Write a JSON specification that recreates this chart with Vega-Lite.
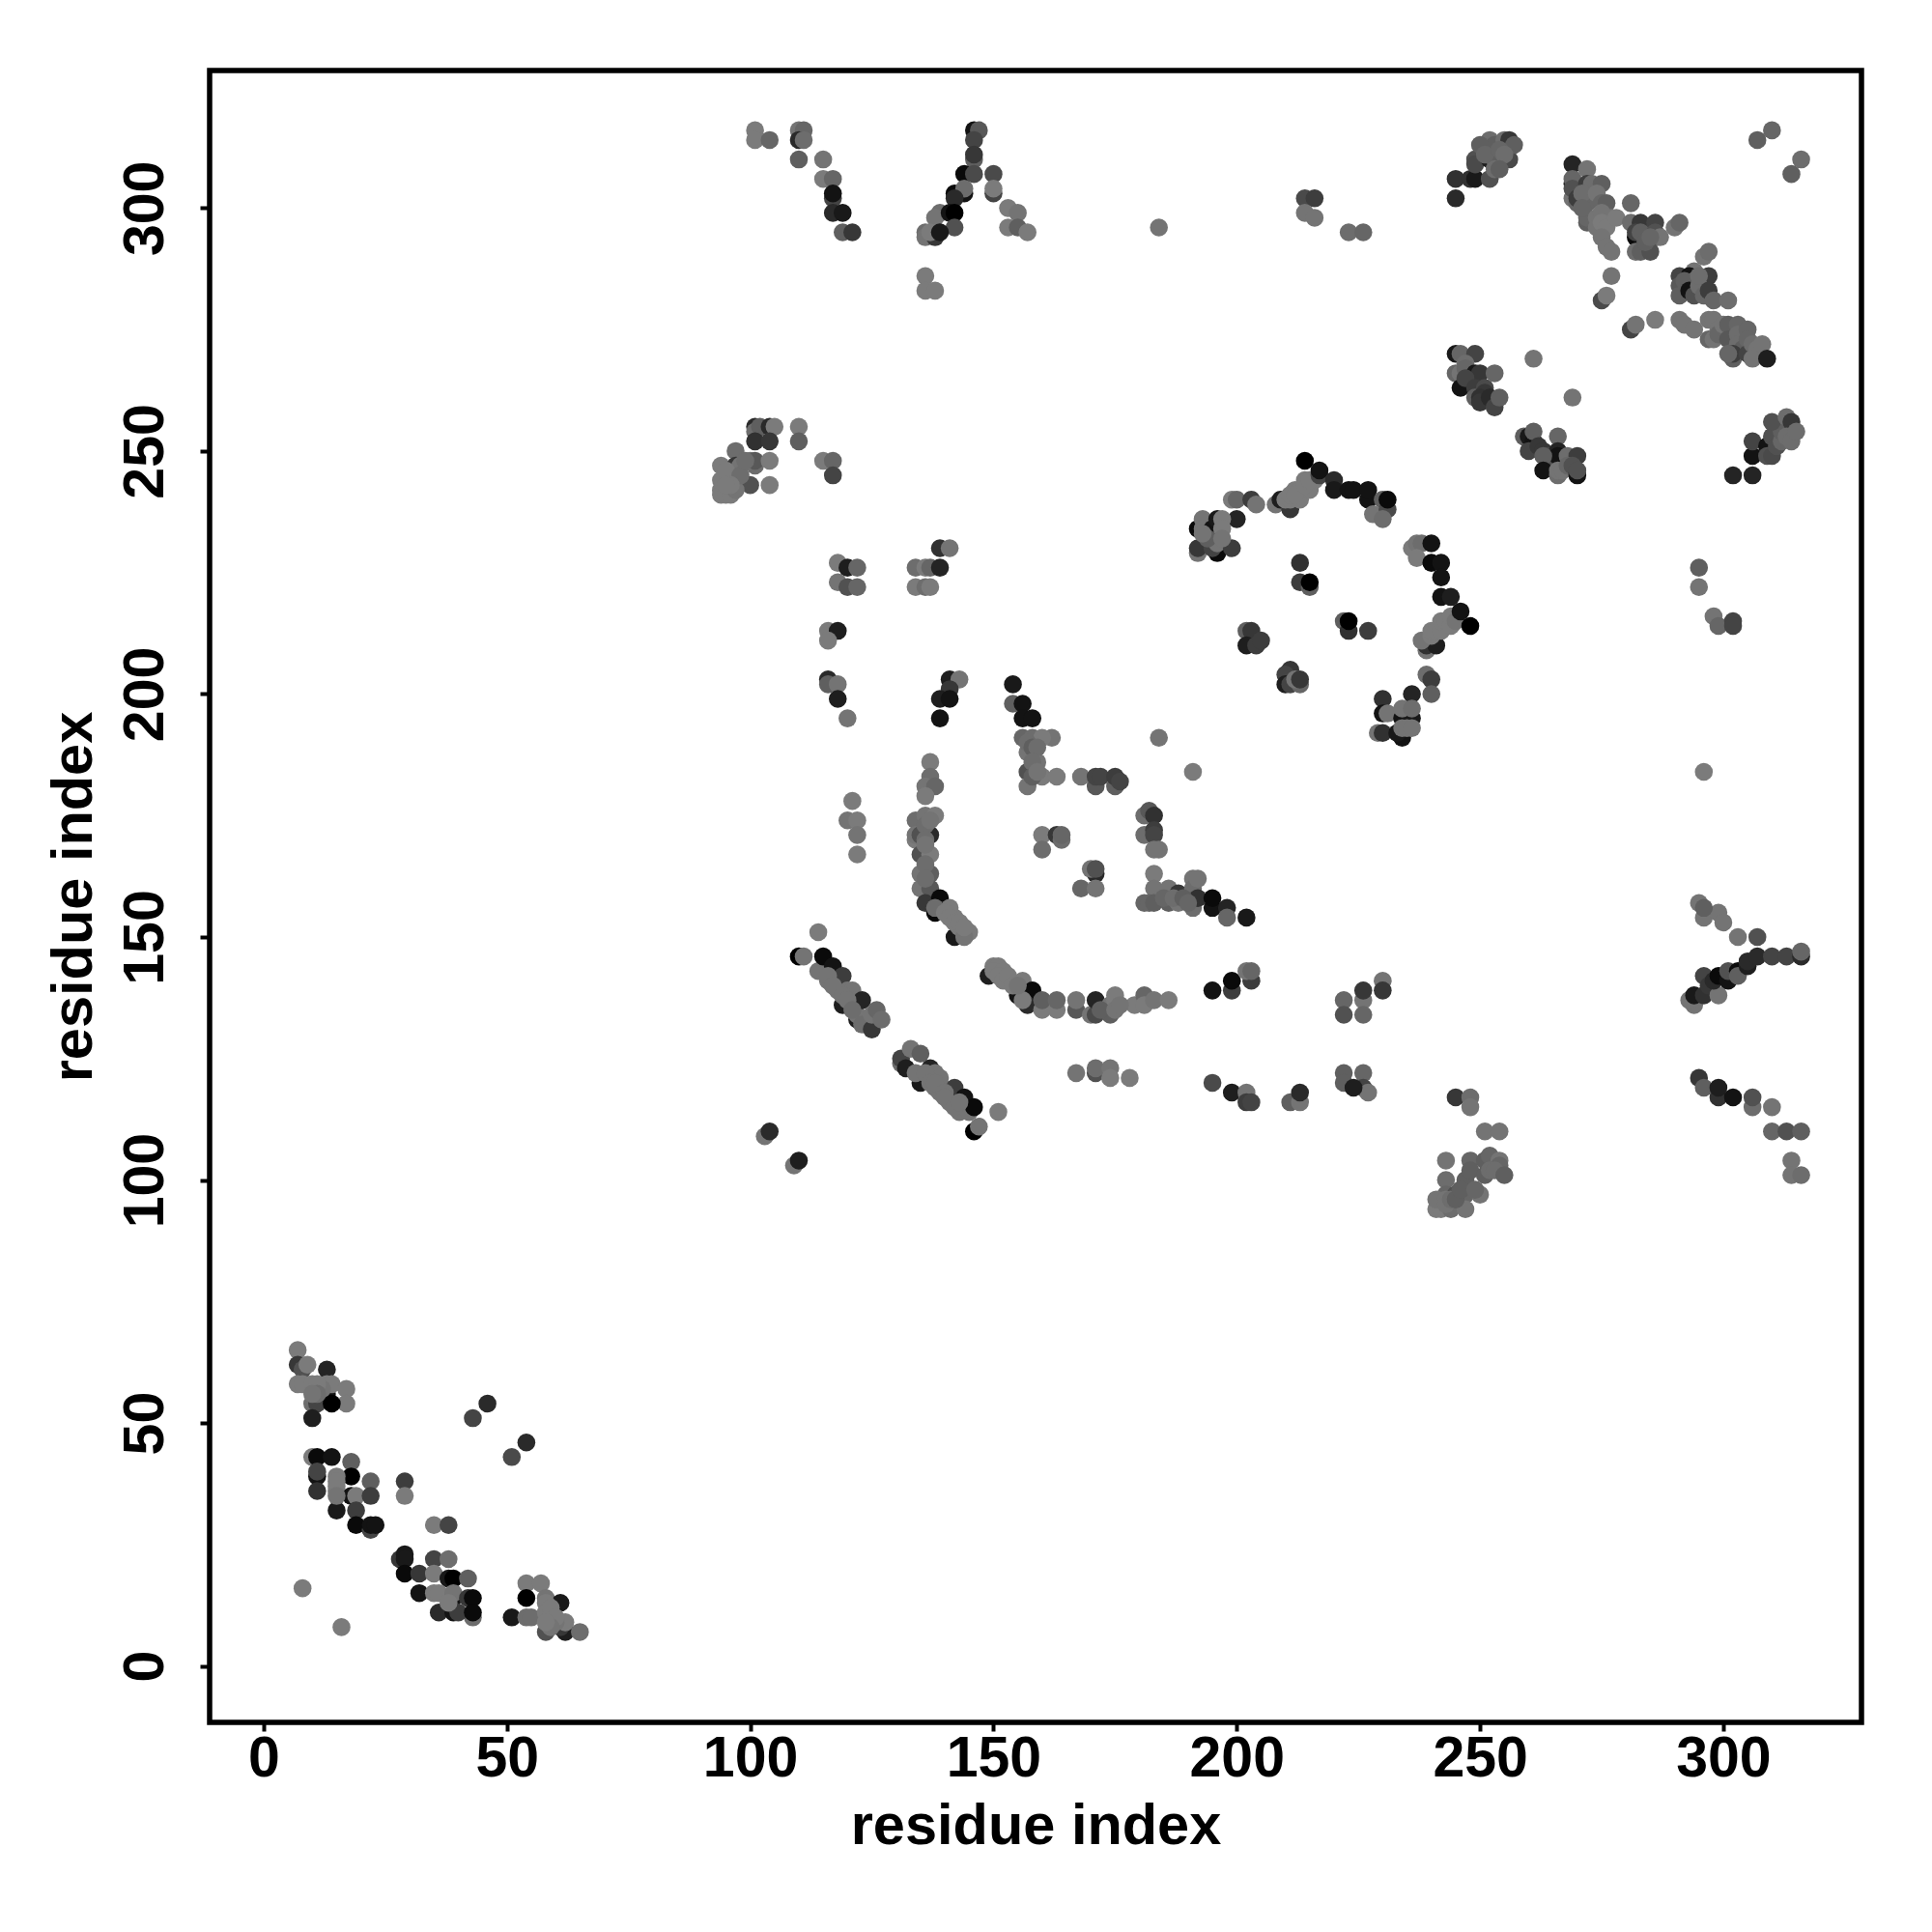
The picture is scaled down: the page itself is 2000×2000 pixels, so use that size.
{"$schema":"https://vega.github.io/schema/vega-lite/v6.json","width":1710,"height":1710,"autosize":{"type":"none"},"padding":{"left":217,"top":73,"right":73,"bottom":217},"background":"white",
"config":{"font":"Liberation Sans","view":{"stroke":"black","strokeWidth":5.5}},
"data":{"values":[
{"x":7,"y":65,"g":0.9},{"x":7,"y":62,"g":0.4},{"x":8,"y":61,"g":0.6},{"x":9,"y":62,"g":0.9},{"x":13,"y":61,"g":0.25},{"x":7,"y":58,"g":0.9},{"x":8,"y":58,"g":0.9},{"x":10,"y":58,"g":0.9},{"x":13,"y":56,"g":0.1},{"x":13,"y":58,"g":0.9},{"x":14,"y":58,"g":0.9},{"x":17,"y":57,"g":0.9},{"x":17,"y":54,"g":0.9},{"x":10,"y":54,"g":0.8},{"x":11,"y":54,"g":0.5},{"x":14,"y":54,"g":0},{"x":10,"y":51,"g":0.2},{"x":46,"y":54,"g":0.3},{"x":43,"y":51,"g":0.5},{"x":54,"y":46,"g":0.3},{"x":51,"y":43,"g":0.55},{"x":10,"y":43,"g":0.9},{"x":11,"y":43,"g":0.05},{"x":14,"y":43,"g":0.1},{"x":18,"y":42,"g":0.7},{"x":11,"y":39,"g":0.1},{"x":11,"y":40,"g":0.5},{"x":18,"y":39,"g":0},{"x":15,"y":39,"g":0.9},{"x":22,"y":38,"g":0.7},{"x":29,"y":38,"g":0.45},{"x":11,"y":36,"g":0.35},{"x":15,"y":36,"g":0.9},{"x":18,"y":35,"g":0.1},{"x":19,"y":35,"g":0.9},{"x":22,"y":35,"g":0.45},{"x":29,"y":35,"g":0.9},{"x":15,"y":32,"g":0.15},{"x":19,"y":32,"g":0.45},{"x":19,"y":29,"g":0.05},{"x":22,"y":28,"g":0.5},{"x":22,"y":29,"g":0.1},{"x":23,"y":29,"g":0.1},{"x":35,"y":29,"g":0.9},{"x":38,"y":29,"g":0.5},{"x":28,"y":22,"g":0.4},{"x":29,"y":23,"g":0.15},{"x":29,"y":22,"g":0.15},{"x":29,"y":19,"g":0.05},{"x":35,"y":22,"g":0.5},{"x":38,"y":22,"g":0.8},{"x":32,"y":19,"g":0.4},{"x":35,"y":19,"g":0.9},{"x":38,"y":18,"g":0.15},{"x":39,"y":18,"g":0},{"x":42,"y":18,"g":0.7},{"x":32,"y":15,"g":0.1},{"x":35,"y":15,"g":0.9},{"x":36,"y":15,"g":0.9},{"x":39,"y":14,"g":0.1},{"x":39,"y":15,"g":0.85},{"x":42,"y":14,"g":0.4},{"x":43,"y":10,"g":0.8},{"x":43,"y":14,"g":0.05},{"x":36,"y":11,"g":0.3},{"x":39,"y":11,"g":0.1},{"x":40,"y":11,"g":0.45},{"x":43,"y":11,"g":0.05},{"x":8,"y":16,"g":0.9},{"x":16,"y":8,"g":0.9},{"x":54,"y":17,"g":0.9},{"x":57,"y":17,"g":0.9},{"x":54,"y":14,"g":0},{"x":58,"y":14,"g":0.85},{"x":51,"y":10,"g":0.15},{"x":54,"y":10,"g":0.8},{"x":55,"y":10,"g":0.8},{"x":61,"y":13,"g":0.15},{"x":58,"y":13,"g":0.9},{"x":58,"y":7,"g":0.6},{"x":58,"y":11,"g":0.9},{"x":59,"y":10,"g":0.9},{"x":62,"y":7,"g":0.2},{"x":61,"y":8,"g":0.4},{"x":62,"y":9,"g":0.9},{"x":65,"y":7,"g":0.8},
{"x":101,"y":316,"g":0.9},{"x":101,"y":314,"g":0.9},{"x":104,"y":314,"g":0.75},{"x":110,"y":316,"g":0.85},{"x":111,"y":316,"g":0.75},{"x":110,"y":314,"g":0.3},{"x":111,"y":314,"g":0.8},{"x":110,"y":310,"g":0.7},{"x":115,"y":310,"g":0.85},{"x":115,"y":306,"g":0.9},{"x":117,"y":306,"g":0.75},{"x":117,"y":302,"g":0.5},{"x":117,"y":303,"g":0.1},{"x":117,"y":299,"g":0.3},{"x":119,"y":299,"g":0.15},{"x":119,"y":295,"g":0.7},{"x":121,"y":295,"g":0.4},
{"x":146,"y":316,"g":0.1},{"x":147,"y":316,"g":0.65},{"x":146,"y":314,"g":0.5},{"x":146,"y":310,"g":0.7},{"x":146,"y":311,"g":0.4},{"x":144,"y":307,"g":0.05},{"x":146,"y":307,"g":0.55},{"x":150,"y":307,"g":0.55},{"x":150,"y":303,"g":0.5},{"x":150,"y":304,"g":0.9},{"x":142,"y":303,"g":0.05},{"x":144,"y":303,"g":0.1},{"x":144,"y":304,"g":0.8},{"x":142,"y":302,"g":0.3},{"x":139,"y":299,"g":0.8},{"x":138,"y":298,"g":0.85},{"x":141,"y":299,"g":0.1},{"x":142,"y":299,"g":0},{"x":153,"y":300,"g":0.9},{"x":155,"y":299,"g":0.85},{"x":153,"y":296,"g":0.9},{"x":155,"y":296,"g":0.7},{"x":157,"y":295,"g":0.9},{"x":142,"y":296,"g":0.6},{"x":136,"y":295,"g":0.8},{"x":136,"y":294,"g":0.85},{"x":138,"y":294,"g":0.4},{"x":137,"y":295,"g":0.9},{"x":139,"y":295,"g":0.15},{"x":136,"y":286,"g":0.9},{"x":136,"y":283,"g":0.9},{"x":138,"y":283,"g":0.9},
{"x":101,"y":255,"g":0.3},{"x":101,"y":254,"g":0.8},{"x":102,"y":255,"g":0.7},{"x":104,"y":255,"g":0.3},{"x":105,"y":255,"g":0.9},{"x":101,"y":252,"g":0.35},{"x":104,"y":252,"g":0.4},{"x":110,"y":255,"g":0.9},{"x":110,"y":252,"g":0.7},{"x":115,"y":248,"g":0.9},{"x":117,"y":248,"g":0.75},{"x":117,"y":245,"g":0.5},{"x":97,"y":250,"g":0.8},{"x":101,"y":247,"g":0.8},{"x":100,"y":248,"g":0.85},{"x":101,"y":248,"g":0.65},{"x":104,"y":248,"g":0.9},{"x":94,"y":247,"g":0.9},{"x":97,"y":247,"g":0.4},{"x":98,"y":247,"g":0.85},{"x":97,"y":243,"g":0.65},{"x":100,"y":243,"g":0.6},{"x":104,"y":243,"g":0.9},{"x":94,"y":244,"g":0.9},{"x":94,"y":242,"g":0.9},{"x":94,"y":241,"g":0.9},{"x":95,"y":241,"g":0.9},{"x":96,"y":241,"g":0.9},{"x":97,"y":242,"g":0.85},{"x":96,"y":244,"g":0.9},{"x":95,"y":246,"g":0.9},
{"x":118,"y":227,"g":0.9},{"x":120,"y":226,"g":0.2},{"x":122,"y":226,"g":0.75},{"x":118,"y":223,"g":0.85},{"x":120,"y":222,"g":0.6},{"x":122,"y":222,"g":0.75},{"x":116,"y":213,"g":0.9},{"x":118,"y":213,"g":0.2},{"x":116,"y":211,"g":0.9},{"x":116,"y":203,"g":0.3},{"x":116,"y":202,"g":0.7},{"x":118,"y":202,"g":0.85},{"x":118,"y":199,"g":0.2},{"x":120,"y":195,"g":0.85},{"x":121,"y":178,"g":0.9},{"x":120,"y":174,"g":0.85},{"x":122,"y":174,"g":0.9},{"x":122,"y":171,"g":0.85},{"x":122,"y":167,"g":0.9},
{"x":134,"y":226,"g":0.8},{"x":136,"y":226,"g":0.9},{"x":137,"y":226,"g":0.75},{"x":139,"y":226,"g":0.25},{"x":134,"y":222,"g":0.9},{"x":136,"y":222,"g":0.8},{"x":137,"y":222,"g":0.9},{"x":139,"y":230,"g":0.35},{"x":141,"y":230,"g":0.85},{"x":141,"y":203,"g":0.2},{"x":143,"y":203,"g":0.85},{"x":141,"y":201,"g":0.4},{"x":139,"y":199,"g":0.2},{"x":141,"y":199,"g":0.1},{"x":139,"y":195,"g":0.1},
{"x":137,"y":186,"g":0.9},{"x":137,"y":183,"g":0.8},{"x":136,"y":181,"g":0.85},{"x":138,"y":181,"g":0.75},{"x":136,"y":179,"g":0.9},{"x":134,"y":174,"g":0.8},{"x":136,"y":175,"g":0.85},{"x":138,"y":175,"g":0.9},{"x":134,"y":170,"g":0.9},{"x":134,"y":171,"g":0.85},{"x":135,"y":171,"g":0.6},{"x":137,"y":171,"g":0.3},{"x":135,"y":167,"g":0.6},{"x":137,"y":167,"g":0.9},{"x":135,"y":163,"g":0.85},{"x":137,"y":163,"g":0.7},{"x":135,"y":160,"g":0.85},{"x":137,"y":160,"g":0.65},{"x":136,"y":157,"g":0.4},{"x":139,"y":158,"g":0.05},{"x":138,"y":155,"g":0.05},{"x":138,"y":156,"g":0.8},{"x":142,"y":150,"g":0.15},{"x":141,"y":156,"g":0.9},{"x":142,"y":154,"g":0.9},{"x":143,"y":152,"g":0.9},{"x":144,"y":151,"g":0.9},{"x":145,"y":151,"g":0.9},{"x":144,"y":150,"g":0.85},
{"x":149,"y":142,"g":0.2},{"x":150,"y":144,"g":0.9},{"x":151,"y":144,"g":0.9},{"x":150,"y":143,"g":0.9},{"x":152,"y":143,"g":0.9},{"x":153,"y":141,"g":0.9},{"x":156,"y":141,"g":0.9},{"x":155,"y":138,"g":0.1},{"x":158,"y":139,"g":0.05},{"x":157,"y":136,"g":0.3},{"x":156,"y":137,"g":0.9},{"x":160,"y":135,"g":0.9},{"x":160,"y":137,"g":0.7},{"x":163,"y":135,"g":0.9},{"x":163,"y":137,"g":0.75},{"x":167,"y":135,"g":0.65},{"x":167,"y":137,"g":0.85},{"x":170,"y":134,"g":0.85},{"x":171,"y":134,"g":0.55},{"x":171,"y":137,"g":0.25},{"x":174,"y":134,"g":0.7},{"x":174,"y":136,"g":0.85},{"x":175,"y":137,"g":0.9},{"x":175,"y":138,"g":0.9},{"x":179,"y":136,"g":0.9},{"x":181,"y":138,"g":0.75},{"x":181,"y":136,"g":0.9},{"x":183,"y":137,"g":0.85},{"x":186,"y":137,"g":0.9},
{"x":195,"y":139,"g":0.1},{"x":199,"y":139,"g":0.45},{"x":199,"y":141,"g":0.05},{"x":203,"y":141,"g":0.45},{"x":202,"y":143,"g":0.85},{"x":203,"y":143,"g":0.75},
{"x":167,"y":122,"g":0.85},{"x":171,"y":122,"g":0.6},{"x":171,"y":123,"g":0.8},{"x":174,"y":123,"g":0.85},{"x":174,"y":121,"g":0.9},{"x":178,"y":121,"g":0.9},{"x":195,"y":120,"g":0.55},{"x":199,"y":118,"g":0.2},{"x":202,"y":118,"g":0.85},{"x":202,"y":116,"g":0.45},{"x":203,"y":116,"g":0.5},{"x":211,"y":116,"g":0.7},{"x":213,"y":116,"g":0.85},{"x":213,"y":118,"g":0.3},
{"x":154,"y":202,"g":0.15},{"x":154,"y":198,"g":0.7},{"x":156,"y":198,"g":0.1},{"x":156,"y":195,"g":0.1},{"x":158,"y":195,"g":0.1},{"x":156,"y":191,"g":0.75},{"x":158,"y":191,"g":0.8},{"x":162,"y":191,"g":0.85},{"x":160,"y":191,"g":0.9},{"x":157,"y":188,"g":0.85},{"x":157,"y":184,"g":0.6},{"x":157,"y":181,"g":0.85},{"x":159,"y":186,"g":0.85},{"x":160,"y":183,"g":0.9},{"x":163,"y":183,"g":0.9},{"x":168,"y":183,"g":0.85},{"x":171,"y":181,"g":0.65},{"x":171,"y":183,"g":0.5},{"x":172,"y":183,"g":0.5},{"x":175,"y":181,"g":0.7},{"x":175,"y":183,"g":0.45},{"x":176,"y":182,"g":0.5},{"x":191,"y":184,"g":0.9},{"x":184,"y":191,"g":0.85},
{"x":181,"y":175,"g":0.8},{"x":182,"y":176,"g":0.65},{"x":183,"y":175,"g":0.35},{"x":181,"y":171,"g":0.8},{"x":183,"y":172,"g":0.45},{"x":183,"y":171,"g":0.5},{"x":184,"y":168,"g":0.85},{"x":183,"y":168,"g":0.85},{"x":183,"y":163,"g":0.9},{"x":183,"y":160,"g":0.85},{"x":181,"y":157,"g":0.75},{"x":182,"y":157,"g":0.75},{"x":183,"y":157,"g":0.7},{"x":186,"y":160,"g":0.85},{"x":186,"y":157,"g":0.7},{"x":188,"y":157,"g":0.85},{"x":188,"y":159,"g":0.4},{"x":191,"y":162,"g":0.85},{"x":191,"y":160,"g":0.8},{"x":192,"y":162,"g":0.85},{"x":191,"y":156,"g":0.8},{"x":192,"y":158,"g":0.35},{"x":195,"y":156,"g":0.1},{"x":195,"y":158,"g":0.05},{"x":198,"y":156,"g":0.25},{"x":198,"y":154,"g":0.75},{"x":202,"y":154,"g":0.15},
{"x":160,"y":171,"g":0.9},{"x":160,"y":168,"g":0.8},{"x":163,"y":171,"g":0.4},{"x":164,"y":170,"g":0.8},{"x":164,"y":171,"g":0.75},{"x":171,"y":163,"g":0.3},{"x":170,"y":164,"g":0.85},{"x":171,"y":164,"g":0.6},{"x":168,"y":160,"g":0.75},{"x":171,"y":160,"g":0.85},
{"x":114,"y":151,"g":0.9},{"x":110,"y":146,"g":0},{"x":111,"y":146,"g":0.85},{"x":114,"y":143,"g":0.85},{"x":115,"y":146,"g":0.05},{"x":116,"y":141,"g":0.85},{"x":117,"y":144,"g":0.1},{"x":118,"y":139,"g":0.85},{"x":119,"y":142,"g":0.45},{"x":119,"y":136,"g":0.2},{"x":120,"y":139,"g":0.85},{"x":121,"y":139,"g":0.85},{"x":121,"y":137,"g":0.85},{"x":122,"y":133,"g":0.2},{"x":122,"y":134,"g":0.85},{"x":123,"y":132,"g":0.8},{"x":123,"y":137,"g":0.25},{"x":125,"y":131,"g":0.4},{"x":125,"y":134,"g":0.85},{"x":126,"y":135,"g":0.75},{"x":127,"y":133,"g":0.8},
{"x":131,"y":124,"g":0.8},{"x":131,"y":125,"g":0.5},{"x":132,"y":123,"g":0.2},{"x":133,"y":127,"g":0.85},{"x":135,"y":126,"g":0.7},{"x":135,"y":120,"g":0.15},{"x":134,"y":122,"g":0.85},{"x":137,"y":123,"g":0.25},{"x":138,"y":122,"g":0.85},{"x":139,"y":121,"g":0.85},{"x":138,"y":119,"g":0.85},{"x":139,"y":118,"g":0.85},{"x":141,"y":116,"g":0.85},{"x":142,"y":119,"g":0.45},{"x":143,"y":114,"g":0.85},{"x":145,"y":114,"g":0.85},{"x":144,"y":117,"g":0.1},{"x":146,"y":115,"g":0.05},{"x":146,"y":110,"g":0},{"x":147,"y":111,"g":0.85},{"x":151,"y":114,"g":0.9},
{"x":103,"y":109,"g":0.85},{"x":104,"y":110,"g":0.3},{"x":109,"y":103,"g":0.85},{"x":110,"y":104,"g":0.2},
{"x":208,"y":239,"g":0.85},{"x":209,"y":240,"g":0.2},{"x":211,"y":238,"g":0.4},{"x":210,"y":240,"g":0.9},{"x":211,"y":240,"g":0.9},{"x":212,"y":242,"g":0.9},{"x":213,"y":240,"g":0.9},{"x":213,"y":242,"g":0.9},{"x":214,"y":244,"g":0.9},{"x":215,"y":242,"g":0.9},{"x":216,"y":244,"g":0.9},{"x":211,"y":241,"g":0.9},{"x":212,"y":241,"g":0.9},{"x":214,"y":243,"g":0.9},{"x":215,"y":244,"g":0.9},
{"x":214,"y":248,"g":0},{"x":217,"y":245,"g":0.5},{"x":217,"y":246,"g":0.1},{"x":220,"y":244,"g":0.3},{"x":220,"y":242,"g":0.15},{"x":223,"y":242,"g":0.1},{"x":224,"y":242,"g":0.1},{"x":227,"y":240,"g":0.1},{"x":227,"y":242,"g":0.1},{"x":228,"y":237,"g":0.85},{"x":230,"y":240,"g":0.7},{"x":231,"y":238,"g":0.55},{"x":230,"y":236,"g":0.8},{"x":231,"y":240,"g":0.05},
{"x":199,"y":240,"g":0.9},{"x":200,"y":240,"g":0.75},{"x":203,"y":240,"g":0.45},{"x":204,"y":239,"g":0.85},{"x":200,"y":236,"g":0.25},{"x":192,"y":234,"g":0.05},{"x":192,"y":229,"g":0.85},{"x":192,"y":230,"g":0.4},{"x":193,"y":236,"g":0.85},{"x":193,"y":234,"g":0.85},{"x":196,"y":229,"g":0.05},{"x":195,"y":230,"g":0.5},{"x":195,"y":234,"g":0.1},{"x":196,"y":236,"g":0.15},{"x":196,"y":231,"g":0.85},{"x":194,"y":232,"g":0.7},{"x":197,"y":236,"g":0.9},{"x":197,"y":234,"g":0.9},{"x":199,"y":230,"g":0.45},{"x":193,"y":233,"g":0.85},{"x":197,"y":232,"g":0.85},
{"x":213,"y":227,"g":0.35},{"x":213,"y":223,"g":0.45},{"x":215,"y":222,"g":0.7},{"x":215,"y":223,"g":0},{"x":222,"y":215,"g":0.7},{"x":223,"y":213,"g":0.35},{"x":223,"y":215,"g":0},{"x":227,"y":213,"g":0.45},
{"x":202,"y":213,"g":0.7},{"x":203,"y":213,"g":0.4},{"x":202,"y":210,"g":0.2},{"x":204,"y":210,"g":0.45},{"x":205,"y":211,"g":0.45},{"x":211,"y":205,"g":0.4},{"x":210,"y":204,"g":0.5},{"x":210,"y":202,"g":0.2},{"x":211,"y":202,"g":0.5},{"x":213,"y":202,"g":0.75},{"x":212,"y":203,"g":0.85},{"x":213,"y":203,"g":0.4},
{"x":236,"y":230,"g":0.9},{"x":237,"y":231,"g":0.85},{"x":238,"y":231,"g":0.8},{"x":237,"y":228,"g":0.9},{"x":240,"y":231,"g":0.1},{"x":240,"y":227,"g":0.05},{"x":242,"y":227,"g":0.1},{"x":242,"y":224,"g":0.1},{"x":242,"y":220,"g":0.1},{"x":244,"y":220,"g":0.2},{"x":239,"y":209,"g":0.85},{"x":239,"y":210,"g":0.35},{"x":241,"y":210,"g":0.2},{"x":238,"y":211,"g":0.85},{"x":240,"y":212,"g":0.9},{"x":240,"y":213,"g":0.9},{"x":241,"y":213,"g":0.9},{"x":242,"y":213,"g":0.9},{"x":242,"y":215,"g":0.9},{"x":243,"y":215,"g":0.9},{"x":244,"y":214,"g":0.9},{"x":244,"y":216,"g":0.9},{"x":245,"y":215,"g":0.85},{"x":246,"y":217,"g":0.1},{"x":248,"y":214,"g":0},
{"x":239,"y":204,"g":0.8},{"x":240,"y":203,"g":0.45},{"x":240,"y":200,"g":0.7},{"x":236,"y":200,"g":0.25},{"x":230,"y":199,"g":0.35},{"x":230,"y":196,"g":0.1},{"x":231,"y":196,"g":0.85},{"x":234,"y":195,"g":0.1},{"x":236,"y":195,"g":0.15},{"x":234,"y":197,"g":0.85},{"x":236,"y":197,"g":0.8},{"x":229,"y":192,"g":0.85},{"x":230,"y":192,"g":0.35},{"x":234,"y":191,"g":0.1},{"x":233,"y":192,"g":0.15},{"x":234,"y":193,"g":0.85},{"x":235,"y":193,"g":0.85},{"x":236,"y":193,"g":0.85},
{"x":245,"y":302,"g":0.3},{"x":245,"y":306,"g":0.35},{"x":248,"y":306,"g":0.35},{"x":249,"y":306,"g":0.15},{"x":252,"y":306,"g":0.6},{"x":249,"y":310,"g":0.6},{"x":249,"y":309,"g":0.55},{"x":252,"y":310,"g":0.2},{"x":252,"y":314,"g":0.8},{"x":253,"y":313,"g":0.7},{"x":253,"y":310,"g":0.7},{"x":253,"y":308,"g":0.8},{"x":255,"y":314,"g":0.8},{"x":256,"y":313,"g":0.2},{"x":256,"y":314,"g":0.4},{"x":256,"y":310,"g":0.55},{"x":257,"y":313,"g":0.7},{"x":250,"y":313,"g":0.7},{"x":251,"y":311,"g":0.75},{"x":254,"y":312,"g":0.75},{"x":255,"y":311,"g":0.8},{"x":254,"y":308,"g":0.7},
{"x":269,"y":309,"g":0.25},{"x":272,"y":308,"g":0.85},{"x":269,"y":305,"g":0.2},{"x":269,"y":306,"g":0.75},{"x":269,"y":302,"g":0.85},{"x":269,"y":304,"g":0.6},{"x":270,"y":301,"g":0.75},{"x":270,"y":302,"g":0.45},{"x":272,"y":305,"g":0.45},{"x":273,"y":305,"g":0.8},{"x":275,"y":305,"g":0.7},{"x":273,"y":302,"g":0.6},{"x":272,"y":301,"g":0.75},{"x":272,"y":297,"g":0.7},{"x":272,"y":298,"g":0.75},{"x":271,"y":303,"g":0.8},{"x":271,"y":300,"g":0.75},{"x":274,"y":303,"g":0.85},{"x":275,"y":301,"g":0.75},{"x":276,"y":301,"g":0.7},{"x":274,"y":298,"g":0.85},{"x":276,"y":298,"g":0.85},{"x":277,"y":298,"g":0.85},{"x":275,"y":299,"g":0.85},{"x":274,"y":296,"g":0.85},{"x":275,"y":297,"g":0.9},{"x":276,"y":296,"g":0.9},{"x":278,"y":298,"g":0.9},{"x":275,"y":294,"g":0.85},{"x":276,"y":292,"g":0.85},{"x":277,"y":291,"g":0.85},{"x":277,"y":286,"g":0.85},{"x":275,"y":281,"g":0.55},{"x":276,"y":282,"g":0.9},
{"x":281,"y":301,"g":0.75},{"x":281,"y":297,"g":0.8},{"x":283,"y":297,"g":0.4},{"x":286,"y":297,"g":0.5},{"x":282,"y":294,"g":0.05},{"x":282,"y":295,"g":0.5},{"x":283,"y":295,"g":0.7},{"x":286,"y":294,"g":0.1},{"x":286,"y":295,"g":0.6},{"x":287,"y":294,"g":0.85},{"x":282,"y":291,"g":0.8},{"x":283,"y":291,"g":0.7},{"x":285,"y":291,"g":0.6},{"x":284,"y":293,"g":0.7},{"x":285,"y":294,"g":0.75},{"x":290,"y":296,"g":0.85},{"x":291,"y":297,"g":0.75},
{"x":296,"y":290,"g":0.85},{"x":297,"y":291,"g":0.8},{"x":294,"y":287,"g":0.85},{"x":291,"y":286,"g":0.5},{"x":293,"y":286,"g":0.1},{"x":294,"y":285,"g":0.85},{"x":297,"y":286,"g":0.45},{"x":291,"y":284,"g":0.65},{"x":291,"y":282,"g":0.7},{"x":292,"y":285,"g":0.7},{"x":293,"y":283,"g":0.1},{"x":294,"y":282,"g":0.6},{"x":295,"y":284,"g":0.8},{"x":295,"y":286,"g":0.8},{"x":296,"y":282,"g":0.75},{"x":297,"y":283,"g":0.45},{"x":298,"y":281,"g":0.75},{"x":301,"y":281,"g":0.8},
{"x":291,"y":277,"g":0.85},{"x":292,"y":276,"g":0.85},{"x":294,"y":275,"g":0.85},{"x":297,"y":277,"g":0.85},{"x":298,"y":277,"g":0.85},{"x":297,"y":273,"g":0.75},{"x":298,"y":273,"g":0.85},{"x":299,"y":275,"g":0.85},{"x":299,"y":274,"g":0.75},{"x":300,"y":276,"g":0.85},{"x":301,"y":276,"g":0.7},{"x":301,"y":273,"g":0.65},{"x":303,"y":276,"g":0.75},{"x":303,"y":274,"g":0.8},{"x":303,"y":272,"g":0.8},{"x":304,"y":271,"g":0.7},{"x":305,"y":275,"g":0.75},{"x":305,"y":273,"g":0.75},{"x":302,"y":269,"g":0.7},{"x":302,"y":270,"g":0.45},{"x":301,"y":270,"g":0.75},{"x":305,"y":270,"g":0.5},{"x":306,"y":272,"g":0.8},{"x":307,"y":271,"g":0.85},{"x":306,"y":269,"g":0.85},{"x":308,"y":272,"g":0.85},{"x":309,"y":269,"g":0.2},
{"x":281,"y":275,"g":0.5},{"x":282,"y":276,"g":0.85},{"x":286,"y":277,"g":0.9},{"x":310,"y":316,"g":0.75},{"x":307,"y":314,"g":0.7},{"x":316,"y":310,"g":0.8},{"x":314,"y":307,"g":0.7},
{"x":245,"y":270,"g":0.15},{"x":246,"y":270,"g":0.75},{"x":249,"y":270,"g":0.5},{"x":245,"y":266,"g":0.75},{"x":246,"y":266,"g":0.85},{"x":247,"y":268,"g":0.8},{"x":247,"y":267,"g":0.75},{"x":249,"y":266,"g":0.15},{"x":250,"y":266,"g":0.4},{"x":253,"y":266,"g":0.75},{"x":246,"y":263,"g":0.1},{"x":247,"y":265,"g":0.5},{"x":249,"y":263,"g":0.45},{"x":249,"y":261,"g":0.7},{"x":251,"y":263,"g":0.55},{"x":251,"y":262,"g":0.4},{"x":250,"y":261,"g":0.35},{"x":250,"y":260,"g":0.4},{"x":253,"y":260,"g":0.2},{"x":252,"y":261,"g":0.3},{"x":253,"y":259,"g":0.5},{"x":254,"y":261,"g":0.7},{"x":261,"y":269,"g":0.85},{"x":269,"y":261,"g":0.85},
{"x":259,"y":253,"g":0.7},{"x":260,"y":253,"g":0.15},{"x":261,"y":252,"g":0.1},{"x":261,"y":254,"g":0.7},{"x":266,"y":253,"g":0.75},{"x":260,"y":250,"g":0.5},{"x":262,"y":251,"g":0.4},{"x":263,"y":250,"g":0.4},{"x":264,"y":249,"g":0.5},{"x":265,"y":248,"g":0.6},{"x":266,"y":250,"g":0.25},{"x":266,"y":249,"g":0.1},{"x":268,"y":249,"g":0.8},{"x":270,"y":249,"g":0.45},{"x":263,"y":249,"g":0.7},{"x":263,"y":246,"g":0.1},{"x":266,"y":245,"g":0.8},{"x":266,"y":246,"g":0.85},{"x":267,"y":246,"g":0.85},{"x":268,"y":247,"g":0.75},{"x":269,"y":247,"g":0.6},{"x":270,"y":245,"g":0.1},{"x":270,"y":246,"g":0.6},
{"x":302,"y":245,"g":0.25},{"x":306,"y":245,"g":0.25},{"x":306,"y":249,"g":0.1},{"x":306,"y":252,"g":0.5},{"x":309,"y":251,"g":0.1},{"x":309,"y":249,"g":0.6},{"x":310,"y":253,"g":0.6},{"x":310,"y":249,"g":0.55},{"x":311,"y":251,"g":0.6},{"x":312,"y":252,"g":0.75},{"x":312,"y":254,"g":0.7},{"x":310,"y":256,"g":0.6},{"x":313,"y":257,"g":0.8},{"x":314,"y":256,"g":0.4},{"x":313,"y":253,"g":0.8},{"x":314,"y":252,"g":0.8},{"x":315,"y":254,"g":0.8},
{"x":295,"y":226,"g":0.7},{"x":295,"y":222,"g":0.85},{"x":298,"y":216,"g":0.85},{"x":299,"y":214,"g":0.75},{"x":302,"y":215,"g":0.5},{"x":302,"y":214,"g":0.5},{"x":296,"y":184,"g":0.9},
{"x":295,"y":157,"g":0.85},{"x":296,"y":154,"g":0.85},{"x":299,"y":155,"g":0.85},{"x":296,"y":156,"g":0.7},{"x":300,"y":153,"g":0.85},{"x":303,"y":150,"g":0.85},{"x":307,"y":150,"g":0.6},
{"x":294,"y":136,"g":0.85},{"x":293,"y":137,"g":0.85},{"x":294,"y":138,"g":0.15},{"x":296,"y":142,"g":0.5},{"x":296,"y":138,"g":0.35},{"x":297,"y":140,"g":0.4},{"x":299,"y":138,"g":0.85},{"x":298,"y":141,"g":0.3},{"x":299,"y":142,"g":0.05},{"x":301,"y":141,"g":0.1},{"x":301,"y":143,"g":0.6},{"x":303,"y":143,"g":0.05},{"x":303,"y":142,"g":0.7},{"x":305,"y":144,"g":0.2},{"x":305,"y":145,"g":0.3},{"x":307,"y":146,"g":0.3},{"x":310,"y":146,"g":0.5},{"x":313,"y":146,"g":0.5},{"x":316,"y":146,"g":0.3},{"x":316,"y":147,"g":0.75},
{"x":295,"y":121,"g":0.4},{"x":296,"y":119,"g":0.7},{"x":299,"y":117,"g":0.35},{"x":299,"y":119,"g":0.2},{"x":302,"y":117,"g":0.1},{"x":306,"y":115,"g":0.8},{"x":306,"y":117,"g":0.6},{"x":310,"y":115,"g":0.85},{"x":310,"y":110,"g":0.75},{"x":313,"y":110,"g":0.6},{"x":316,"y":110,"g":0.7},{"x":314,"y":104,"g":0.85},{"x":314,"y":101,"g":0.85},{"x":316,"y":101,"g":0.8},
{"x":243,"y":104,"g":0.85},{"x":248,"y":104,"g":0.75},{"x":243,"y":100,"g":0.8},{"x":247,"y":100,"g":0.7},{"x":243,"y":97,"g":0.75},{"x":245,"y":97,"g":0.6},{"x":247,"y":97,"g":0.75},{"x":250,"y":97,"g":0.85},{"x":241,"y":94,"g":0.9},{"x":242,"y":94,"g":0.9},{"x":244,"y":94,"g":0.8},{"x":247,"y":94,"g":0.85},{"x":241,"y":96,"g":0.85},{"x":243,"y":96,"g":0.85},{"x":243,"y":95,"g":0.85},{"x":244,"y":96,"g":0.8},{"x":245,"y":96,"g":0.7},{"x":246,"y":98,"g":0.7},{"x":249,"y":98,"g":0.75},{"x":248,"y":102,"g":0.7},{"x":251,"y":110,"g":0.85},{"x":254,"y":110,"g":0.85},{"x":251,"y":104,"g":0.7},{"x":252,"y":105,"g":0.75},{"x":254,"y":104,"g":0.85},{"x":254,"y":103,"g":0.75},{"x":251,"y":101,"g":0.7},{"x":252,"y":102,"g":0.8},{"x":253,"y":102,"g":0.8},{"x":255,"y":101,"g":0.7},{"x":245,"y":117,"g":0.4},{"x":248,"y":117,"g":0.8},{"x":248,"y":115,"g":0.85},
{"x":214,"y":302,"g":0.55},{"x":216,"y":302,"g":0.45},{"x":214,"y":299,"g":0.85},{"x":216,"y":298,"g":0.85},{"x":223,"y":295,"g":0.8},{"x":226,"y":295,"g":0.75},{"x":184,"y":296,"g":0.85},
{"x":222,"y":137,"g":0.75},{"x":222,"y":134,"g":0.6},{"x":226,"y":137,"g":0.85},{"x":226,"y":139,"g":0.4},{"x":226,"y":134,"g":0.75},{"x":230,"y":141,"g":0.85},{"x":230,"y":139,"g":0.4},{"x":222,"y":122,"g":0.7},{"x":222,"y":120,"g":0.7},{"x":226,"y":122,"g":0.75},{"x":226,"y":119,"g":0.5},{"x":227,"y":118,"g":0.85},{"x":224,"y":119,"g":0.2},
{"x":116,"y":142,"g":0.85},{"x":117,"y":140,"g":0.85},{"x":119,"y":138,"g":0.85},{"x":120,"y":137,"g":0.85},{"x":121,"y":135,"g":0.8},{"x":136,"y":122,"g":0.85},{"x":137,"y":120,"g":0.85},{"x":138,"y":120,"g":0.85},{"x":140,"y":118,"g":0.85},{"x":140,"y":117,"g":0.85},{"x":142,"y":115,"g":0.85},{"x":143,"y":116,"g":0.85},
{"x":151,"y":142,"g":0.9},{"x":152,"y":141,"g":0.9},{"x":153,"y":142,"g":0.9},{"x":154,"y":140,"g":0.9},{"x":155,"y":140,"g":0.85},{"x":172,"y":135,"g":0.7},{"x":175,"y":135,"g":0.85},{"x":176,"y":136,"g":0.85},{"x":140,"y":155,"g":0.9},{"x":141,"y":154,"g":0.9},{"x":142,"y":153,"g":0.9},{"x":143,"y":153,"g":0.9},{"x":144,"y":152,"g":0.9},{"x":136,"y":173,"g":0.8},{"x":137,"y":174,"g":0.85},{"x":136,"y":170,"g":0.8},{"x":136,"y":169,"g":0.85},{"x":136,"y":165,"g":0.8},{"x":136,"y":162,"g":0.8},
{"x":98,"y":245,"g":0.8},{"x":99,"y":248,"g":0.8},{"x":96,"y":243,"g":0.9},{"x":95,"y":243,"g":0.9},{"x":59,"y":12,"g":0.9},{"x":60,"y":9,"g":0.85},{"x":60,"y":10,"g":0.9},{"x":59,"y":8,"g":0.85},{"x":58,"y":9,"g":0.9},{"x":38,"y":13,"g":0.9},{"x":15,"y":37,"g":0.9},{"x":15,"y":38,"g":0.9},{"x":15,"y":35,"g":0.85},{"x":12,"y":57,"g":0.85},{"x":11,"y":58,"g":0.9},{"x":11,"y":56,"g":0.8},{"x":10,"y":56,"g":0.85},
{"x":157,"y":190,"g":0.8},{"x":158,"y":189,"g":0.7},{"x":159,"y":189,"g":0.8},{"x":158,"y":186,"g":0.8},{"x":158,"y":183,"g":0.7},{"x":159,"y":184,"g":0.85},{"x":185,"y":158,"g":0.75},{"x":187,"y":158,"g":0.8},{"x":189,"y":158,"g":0.7},{"x":190,"y":157,"g":0.75}
]},
"mark":{"type":"circle","size":345,"opacity":1},
"encoding":{
"x":{"field":"x","type":"quantitative","scale":{"domain":[-11.1,328.4],"nice":false,"zero":false},"axis":{"title":"residue index","grid":false,"domain":false,"values":[0,50,100,150,200,250,300],"tickColor":"black","tickWidth":4,"tickSize":9,"labelFontSize":59,"labelFontWeight":"bold","labelColor":"black","labelPadding":-1,"titleFontSize":59.5,"titleFontWeight":"bold","titleColor":"black","titlePadding":11}},
"y":{"field":"y","type":"quantitative","scale":{"domain":[-11.6,328.3],"nice":false,"zero":false},"axis":{"title":"residue index","grid":false,"domain":false,"values":[0,50,100,150,200,250,300],"tickColor":"black","tickWidth":4,"tickSize":10,"labelFontSize":59,"labelFontWeight":"bold","labelColor":"black","labelAngle":-90,"labelAlign":"center","labelBaseline":"bottom","labelPadding":27,"titleFontSize":59.5,"titleFontWeight":"bold","titleColor":"black","titlePadding":15}},
"color":{"field":"g","type":"quantitative","scale":{"domain":[0,1],"range":["#000000","#8a8a8a"]},"legend":null}
}}
